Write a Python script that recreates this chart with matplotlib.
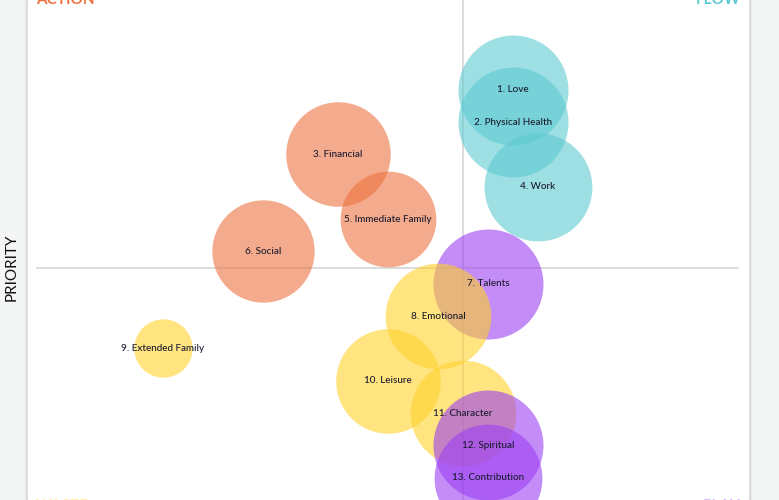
"""
Life areas quadrant: priority rank (vertical) against satisfaction score (horizontal).
Bubble size shows how much weight each area carries.
"""

import matplotlib.pyplot as plt
from matplotlib.patches import Rectangle

# life areas, ranked by priority (1 = top)
AREAS = ['Love', 'Physical Health', 'Financial', 'Work', 'Immediate Family',
         'Social', 'Talents', 'Emotional', 'Extended Family', 'Leisure',
         'Character', 'Spiritual', 'Contribution']
PRIORITY = [1, 2, 3, 4, 5, 6, 7, 8, 9, 10, 11, 12, 13]
SATISFACTION = [15, 15, 8, 16, 10, 5, 14, 12, 1, 10, 13, 14, 14]
WEIGHT = [10, 10, 9.5, 9.8, 8.7, 9.3, 10, 9.6, 5.3, 9.5, 9.6, 10, 9.8]
QUADRANT = ['flow', 'flow', 'action', 'flow', 'action', 'action', 'play',
            'waste', 'waste', 'waste', 'waste', 'play', 'play']

SAT_SPLIT = 13
PRIO_SPLIT = 6.5

COLORS = {
    'action': '#EE723F',
    'flow': '#5CCAD1',
    'waste': '#FFD22B',
    'play': '#9B3FF2',
}

# quadrant captions: (text, colour key, corner)
CAPTIONS = [('ACTION', 'action', 'top-left'), ('FLOW', 'flow', 'top-right'),
            ('WASTE', 'waste', 'bottom-left'), ('PLAY', 'play', 'bottom-right')]

fig = plt.figure(figsize=(7.79, 5.0), dpi=100)
fig.patch.set_facecolor('#F4F5F5')

# white card with soft shadow
for i, a in enumerate([0.03, 0.03, 0.04]):
    fig.patches.append(Rectangle((28 / 779 - (3 - i) / 779, 0), (720 + 2 * (3 - i)) / 779, 1,
                                 transform=fig.transFigure, color='black', alpha=a, zorder=0))
fig.patches.append(Rectangle((28 / 779, 0), 720 / 779, 1, transform=fig.transFigure,
                             color='white', zorder=0))

ax = fig.add_axes([0, 0, 1, 1])
ax.set_zorder(2)
ax.set_facecolor('none')
ax.set_xlim(SAT_SPLIT - 463 / 25, SAT_SPLIT + 316 / 25)
ax.set_ylim(13.69, -1.78)
ax.axis('off')

# quadrant dividers
ax.axhline(PRIO_SPLIT, xmin=37 / 779, xmax=738 / 779, color='#d6d6d6', lw=1.2, zorder=1)
ax.axvline(SAT_SPLIT, color='#d6d6d6', lw=1.2, zorder=1)

for name, p, s, w, q in zip(AREAS, PRIORITY, SATISFACTION, WEIGHT, QUADRANT):
    r = w * 5.5 * 0.72  # radius in points
    ax.scatter(s, p, s=(2 * r) ** 2, color=COLORS[q], alpha=0.6, lw=0, zorder=2)

for i, (name, p, s) in enumerate(zip(AREAS, PRIORITY, SATISFACTION)):
    ax.text(s, p, f'{i + 1}. {name}', ha='center', va='center', fontsize=7.1,
            family='Lato', fontweight='medium', color='#1a1a2e', zorder=3)

# corner captions, partly outside the card
for text, key, corner in CAPTIONS:
    x = 36 / 779 if 'left' in corner else 741 / 779
    y = 1.0 if 'top' in corner else -0.011
    fig.text(x, y, text, ha='left' if 'left' in corner else 'right',
             va='center', fontsize=11, fontweight='bold', family='Lato',
             color=COLORS[key], alpha=1.0 if 'top' in corner else 0.35, zorder=3)

fig.text(12 / 779, 1 - 267 / 500, 'PRIORITY', rotation=90, ha='center', va='center',
         fontsize=11, family='Lato', color='#111111', zorder=3)

fig.savefig('out.png', dpi=100)
